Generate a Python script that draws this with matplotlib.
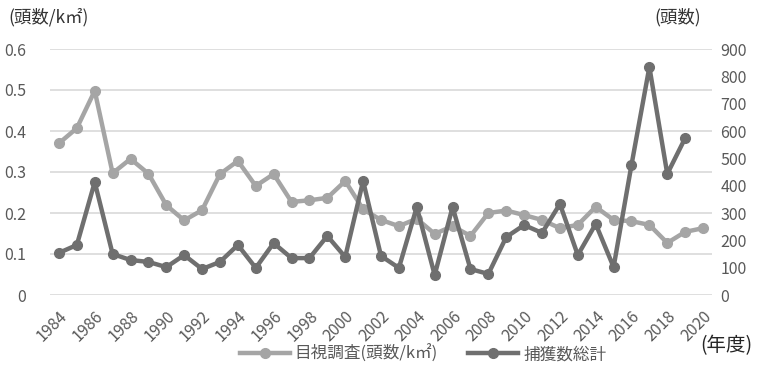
import matplotlib
matplotlib.use("Agg")
import matplotlib.pyplot as plt
from matplotlib.lines import Line2D

plt.rcParams['font.family'] = ['Noto Sans CJK JP', 'DejaVu Sans']

years = list(range(1984, 2021))
survey = [0.37, 0.407, 0.498, 0.297, 0.332, 0.296, 0.219, 0.182, 0.207, 0.295, 0.327,
          0.266, 0.295, 0.227, 0.231, 0.237, 0.278, 0.209, 0.183, 0.168, 0.186, 0.149,
          0.168, 0.144, 0.200, 0.206, 0.195, 0.183, 0.163, 0.171, 0.215, 0.183, 0.180,
          0.171, 0.127, 0.154, 0.163]
catch = [154, 183, 413, 150, 128, 121, 102, 146, 95, 121, 183,
         99, 190, 135, 135, 216, 139, 417, 143, 99, 322, 73,
         322, 95, 77, 212, 256, 227, 333, 146, 260, 102, 476,
         834, 443, 574]
tick_years = years[::2]

c_survey = '#A5A5A5'
c_catch = '#6F6F6F'
c_text = '#595959'

fig = plt.figure(figsize=(7.6, 3.67), dpi=100)
ax = fig.add_axes([50 / 760, 1 - 295 / 367, 662 / 760, 246 / 367])
ax2 = ax.twinx()

x_s = list(range(len(survey)))
x_c = list(range(len(catch)))

ax.plot(x_s, survey, color=c_survey, lw=3.2, marker='o', ms=7, zorder=3)
ax2.plot(x_c, catch, color=c_catch, lw=3.2, marker='o', ms=7, zorder=3)

ax.set_xlim(-0.5, len(years) - 0.5)
ax.set_ylim(0, 0.6)
ax2.set_ylim(0, 900)
ax.set_yticks([0, 0.1, 0.2, 0.3, 0.4, 0.5, 0.6])
ax.set_yticklabels(['0', '0.1', '0.2', '0.3', '0.4', '0.5', '0.6'])
ax2.set_yticks(range(0, 901, 100))

ax.set_xticks([years.index(y) for y in tick_years])
ax.set_xticklabels([str(y) for y in tick_years], rotation=45, ha='right', va='top',
                   rotation_mode='anchor')

ax.grid(axis='y', color='#D9D9D9', lw=1.2)
ax.set_axisbelow(True)
for a in (ax, ax2):
    for s in a.spines.values():
        s.set_visible(False)
    a.tick_params(length=0, colors=c_text, labelsize=11.5)
ax.tick_params(axis='y', pad=17)
ax.tick_params(axis='x', pad=9)
ax2.tick_params(axis='y', pad=6)

fig.text(8 / 760, 1 - 17 / 367, '(頭数/k㎡)', fontsize=12.5, color='#333333', va='center', ha='left')
fig.text(701 / 760, 1 - 17 / 367, '(頭数)', fontsize=12.5, color='#333333', va='center', ha='right')
fig.text(752 / 760, 1 - 346 / 367, '(年度)', fontsize=14, color='#262626', va='center', ha='right')

handles = [Line2D([], [], color=c_survey, lw=3.2, marker='o', ms=7),
           Line2D([], [], color=c_catch, lw=3.2, marker='o', ms=7)]
fig.legend(handles, ['目視調査(頭数/k㎡)', '捕獲数総計'], loc='center',
           bbox_to_anchor=(423 / 760, 1 - 354 / 367), ncol=2, frameon=False,
           fontsize=12, labelcolor=c_text, handlelength=3.0, columnspacing=1.8,
           handletextpad=0.3)

fig.savefig('out.png', dpi=100)
